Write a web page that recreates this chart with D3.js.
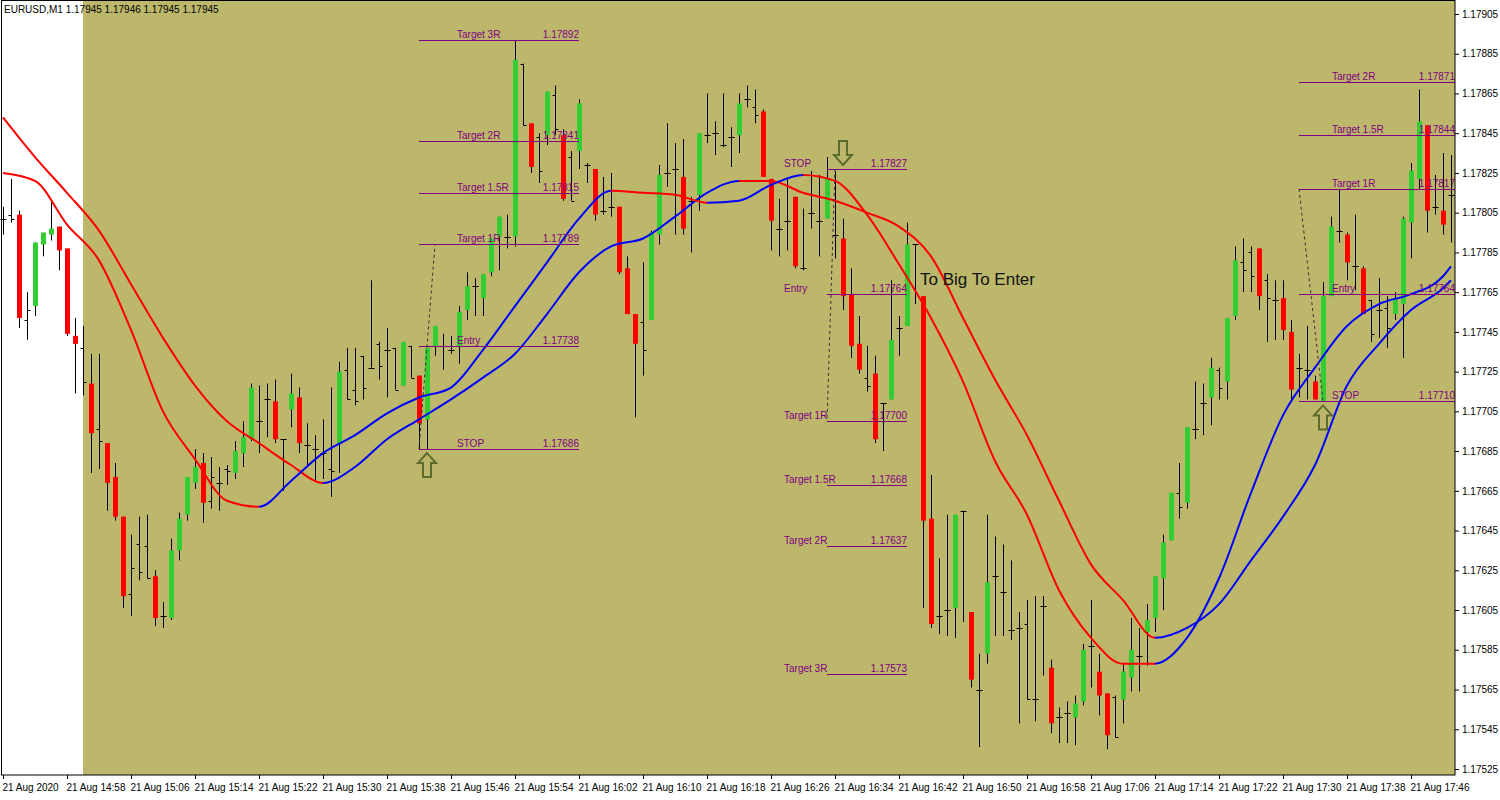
<!DOCTYPE html>
<html>
<head>
<meta charset="utf-8">
<script src="https://cdn.jsdelivr.net/npm/d3@7"></script>
<style>
  body { margin: 0; background: #fff; }
  text { font-family: "Liberation Sans", Arial, sans-serif; }
</style>
</head>
<body>
<svg id="chart" width="1500" height="800"></svg>
<script>
// prices are stored as points (0.00001) above 1.17500
const BASE = 1.175;
const kinds = ("kkrkgggrrr" + "krkrrrkkkr" + "kggggrkkkg" + "ggkkrkgrkk" + "kkgkkkkkkk" +
  "gkrggkkggk" + "gggkgkrkgk" + "rkgkrkkrrr" + "kggkkrkgkk" + "kkgkkrrkkr" +
  "kkkgkrrrkr" + "kgkgkrrkkg" + "krkgkkkkkk" + "krkkggkrrk" + "ggkggggkgk" +
  "kgkggkkrkk" + "rrkkrggkrk" + "rkkkggggrk" + "rk").split("");
const opens = [302,304,304,251,258,289,294,298,287,243, 237,219,196,189,172,152,113,138,137,122,
  102,101,135,153,169,179,160,169,176,174, 184,191,200,211,210,191,206,212,188,186,
  184,176,189,226,216,233,227,239,236,237, 218,238,223,201,238,238,236,238,256,268,
  262,275,293,293,293,380,350,343,344,364, 344,333,336,329,327,306,308,308,277,254,
  250,251,294,325,327,323,311,314,344,345, 339,343,344,362,358,356,322,297,301,313,
  277,305,301,302,294,292,264,239,222,224, 209,211,247,248,289,263,151,102,105,106,
  155,104,65,83,122,114,95,96,98,60, 107,76,51,53,51,59,87,74,63,61,
  60,71,82,94,101,121,140,164,159,196, 209,212,226,220,253,280,285,287,271,261,
  262,245,227,226,220,210,263,296,294,278, 277,261,256,257,254,259,300,322,349,308, 306,314];
const highs = [308,322,306,265,290,295,311,298,287,252, 248,234,234,189,179,152,143,152,153,125,
  109,141,154,172,186,184,182,177,178,190, 200,219,218,219,221,191,224,217,199,193,
  201,217,230,237,237,233,271,240,247,237, 240,238,223,237,248,244,243,258,275,272,
  274,292,303,304,392,380,350,345,366,369, 347,336,362,330,327,323,325,308,283,254,
  280,296,329,350,340,342,313,345,365,351, 365,348,365,369,367,357,322,312,322,313,
  307,326,324,333,326,302,277,253,238,233, 209,271,253,300,289,263,173,131,153,153,
  155,104,83,153,142,138,130,104,110,112, 112,80,56,59,62,88,110,83,63,62,
  78,101,96,108,122,143,164,179,197,220, 219,232,227,252,288,292,288,287,274,271,
  271,251,234,248,223,270,303,317,295,304, 278,261,272,263,265,303,330,367,349,324, 335,334];
const lows = [294,300,247,241,253,283,291,276,243,214, 213,174,176,155,150,106,102,120,121,97,
  96,100,130,150,166,149,156,155,168,171, 177,190,184,192,189,165,197,184,177,170,
  171,162,174,211,208,211,227,221,212,216, 218,222,186,186,233,226,234,229,251,253,
  253,273,276,287,288,349,325,320,339,344, 311,311,327,320,301,304,303,274,254,202,
  223,251,289,318,294,294,285,306,340,334, 338,328,335,358,350,323,286,283,286,277,
  276,297,283,302,282,256,232,224,215,189, 185,211,233,248,259,106,96,93,92,91,
  99,66,36,78,92,92,90,48,60,49, 72,43,38,38,37,57,66,52,35,41,
  48,64,64,77,94,105,140,151,156,191, 193,198,211,211,251,265,265,256,240,241,
  241,211,212,211,211,210,263,290,271,266, 254,240,242,237,251,232,282,317,295,304, 294,290];
const closes = [302,302,252,256,290,295,297,286,244,239, 220,194,190,169,152,112,126,124,121,101,
  102,135,151,172,177,159,172,169,175,185, 192,217,200,211,191,191,214,189,188,186,
  184,175,225,211,210,217,227,228,236,216, 240,222,199,237,248,238,236,255,268,268,
  274,292,303,293,382,349,328,326,366,347, 312,311,360,329,304,306,308,275,254,239,
  236,295,324,325,327,297,311,345,344,345, 339,343,360,362,354,323,301,297,301,278,
  277,305,301,322,294,263,238,226,218,191, 209,241,247,289,289,150,98,102,105,153,
  155,70,65,119,122,114,95,96,60,60, 107,48,51,53,58,85,87,62,42,41,
  74,85,82,100,122,139,164,157,197,196, 209,227,217,252,281,276,273,263,262,261,
  246,216,227,226,211,263,298,296,280,278, 254,244,256,247,262,302,326,351,306,308, 299,314];

// moving averages read every 4 bars (bar 0,4,...,180,181)
const maBars = d3.range(0, 181, 4).concat([181]);
const fastMA = [325,321,299,281,246,205,181,160,157,170, 184,193,204,212,217,236,258,280,302,316,
  315,314,310,311,319,324,321,304,279,252, 220,180,153,115,91,78,78,91,121,164,
  203,227,248,259,264,273,278];
const slowMA = [353,333,315,296,269,242,218,200,189,178, 169,177,191,201,211,222,234,254,275,288,
  292,303,315,321,321,315,311,305,298,283, 252,221,193,160,128,110,91,96,108,130,
  152,178,218,239,256,267,271];

const priceTicks = d3.range(0, 20).map(i => 1.17905 - i * 0.0002);
const timeTickBars = d3.range(0, 182, 8);
const timeLabel = i => {
  if (i === 0) return "21 Aug 2020";
  const m = 14 * 60 + 50 + i;
  return `21 Aug ${Math.floor(m / 60)}:${String(m % 60).padStart(2, "0")}`;
};

const tradeA = { from: 52, to: 72, labelDx: 38, names: ["Target 3R","Target 2R","Target 1.5R","Target 1R","Entry","STOP"],
  prices: [1.17892,1.17841,1.17815,1.17789,1.17738,1.17686] };
const tradeB = { from: 103, to: 113, labelDx: -43, names: ["STOP","Entry","Target 1R","Target 1.5R","Target 2R","Target 3R"],
  prices: [1.17827,1.17764,1.17700,1.17668,1.17637,1.17573] };
const tradeC = { from: 162, to: 181.5, labelDx: 33, names: ["Target 2R","Target 1.5R","Target 1R","Entry","STOP"],
  prices: [1.17871,1.17844,1.17817,1.17764,1.17710] };

const px = v => BASE + v / 1e5;
const svg = d3.select("#chart");
const defs = svg.append("defs");
const plotRight = 1455, plotBottom = 775;
const x = d3.scaleLinear().domain([0, 181]).range([3, 1451]);
const y = d3.scaleLinear().domain([1.17525, 1.17905]).range([769, 14]);

svg.append("rect").attr("x", 83).attr("y", 0).attr("width", plotRight - 83).attr("height", plotBottom)
  .attr("fill", "#BDB76B");

const plot = svg.append("g");
const bars = d3.range(kinds.length).map(i => ({
  i, k: kinds[i], o: px(opens[i]), h: px(highs[i]), l: px(lows[i]), c: px(closes[i]) }));

// wicks / bar lines
plot.selectAll("line.wick").data(bars).join("line")
  .attr("x1", d => x(d.i) + 0.5).attr("x2", d => x(d.i) + 0.5)
  .attr("y1", d => y(d.h)).attr("y2", d => y(d.l))
  .attr("stroke", "#000").attr("stroke-width", 1);
const black = bars.filter(d => d.k === "k");
plot.selectAll("line.ot").data(black).join("line")
  .attr("x1", d => x(d.i) - 2.5).attr("x2", d => x(d.i) + 0.5)
  .attr("y1", d => Math.round(y(d.o)) + 0.5).attr("y2", d => Math.round(y(d.o)) + 0.5)
  .attr("stroke", "#000");
plot.selectAll("line.ct").data(black).join("line")
  .attr("x1", d => x(d.i) + 0.5).attr("x2", d => x(d.i) + 3.5)
  .attr("y1", d => Math.round(y(d.c)) + 0.5).attr("y2", d => Math.round(y(d.c)) + 0.5)
  .attr("stroke", "#000");
plot.selectAll("rect.body").data(bars.filter(d => d.k !== "k")).join("rect")
  .attr("x", d => x(d.i) - 2).attr("width", 5)
  .attr("y", d => y(Math.max(d.o, d.c)))
  .attr("height", d => Math.max(1, Math.abs(y(d.o) - y(d.c))))
  .attr("fill", d => d.k === "g" ? "#32CD32" : "#FF0000");

// moving averages, smooth, coloured by slope (hard-stop gradient along x)
function drawMA(vals, id) {
  const grad = defs.append("linearGradient").attr("id", id)
    .attr("gradientUnits", "userSpaceOnUse").attr("x1", 0).attr("x2", 1500).attr("y1", 0).attr("y2", 0);
  for (let j = 1; j < vals.length; j++) {
    const col = vals[j] > vals[j - 1] ? "#0000FF" : "#FF0000";
    grad.append("stop").attr("offset", x(maBars[j - 1]) / 1500).attr("stop-color", col);
    grad.append("stop").attr("offset", x(maBars[j]) / 1500).attr("stop-color", col);
  }
  const line = d3.line().x((d, j) => x(maBars[j])).y(d => y(px(d))).curve(d3.curveMonotoneX);
  plot.append("path").attr("d", line(vals)).attr("fill", "none")
    .attr("stroke", `url(#${id})`).attr("stroke-width", 2);
}
drawMA(slowMA, "gSlow");
drawMA(fastMA, "gFast");

// trade annotations
const purple = "#800080";
function drawTrade(t) {
  const g = svg.append("g");
  t.prices.forEach((p, j) => {
    const yy = Math.round(y(p)) + 0.5;
    g.append("line").attr("x1", x(t.from)).attr("x2", x(t.to)).attr("y1", yy).attr("y2", yy)
      .attr("stroke", purple).attr("stroke-width", 1);
    g.append("text").attr("x", x(t.from) + t.labelDx).attr("y", yy - 3)
      .attr("font-size", 10).attr("fill", purple).text(t.names[j]);
    g.append("text").attr("x", x(t.to)).attr("y", yy - 3).attr("text-anchor", "end")
      .attr("font-size", 10).attr("fill", purple).text(p.toFixed(5));
  });
}
[tradeA, tradeB, tradeC].forEach(drawTrade);

function dashed(b1, p1, b2, p2) {
  svg.append("line").attr("x1", x(b1)).attr("y1", y(p1)).attr("x2", x(b2)).attr("y2", y(p2))
    .attr("stroke", "#333").attr("stroke-width", 1).attr("stroke-dasharray", "3,3");
}
dashed(52, 1.17686, 54, 1.17789);
dashed(104, 1.17827, 103, 1.17700);
dashed(162, 1.17817, 165, 1.17710);

function arrow(bar, price, dir) {
  // dir 1: up arrow below price, -1: down arrow above price
  const cx = x(bar), y0 = y(price) + dir * 4;
  const s = dir;
  const pts = [[0, 0], [9, 10 * s], [4, 10 * s], [4, 24 * s], [-4, 24 * s], [-4, 10 * s], [-9, 10 * s]];
  svg.append("path").attr("d", d3.line()(pts.map(p => [cx + p[0], y0 + p[1]])) + "Z")
    .attr("fill", "none").attr("stroke", "#5C6B2E").attr("stroke-width", 2);
}
arrow(53, 1.17686, 1);
arrow(105, 1.17827, -1);
arrow(165, 1.17710, 1);

svg.append("text").attr("x", 920).attr("y", 285).attr("font-size", 17).attr("fill", "#111")
  .text("To Big To Enter");

// axes
const yAxis = svg.append("g").attr("transform", `translate(${plotRight},0)`)
  .call(d3.axisRight(y).tickValues(priceTicks).tickSize(4).tickFormat(d => d.toFixed(5)));
yAxis.select(".domain").remove();
yAxis.selectAll("text").attr("font-size", 10).attr("font-family", "Liberation Sans, Arial").attr("x", 7);

const xAxis = svg.append("g").attr("transform", `translate(0,${plotBottom})`)
  .call(d3.axisBottom(x).tickValues(timeTickBars).tickSize(4).tickFormat(timeLabel));
xAxis.select(".domain").remove();
xAxis.selectAll("text").attr("font-size", 10).attr("font-family", "Liberation Sans, Arial")
  .attr("text-anchor", "start").attr("dx", -1).attr("y", 9);

svg.append("rect").attr("x", 1.5).attr("y", 0.5).attr("width", plotRight - 1.5).attr("height", plotBottom - 0.5)
  .attr("fill", "none").attr("stroke", "#000");

svg.append("text").attr("x", 4).attr("y", 13).attr("font-size", 10).attr("fill", "#000")
  .text("EURUSD,M1  1.17945 1.17946 1.17945 1.17945");
</script>
</body>
</html>
